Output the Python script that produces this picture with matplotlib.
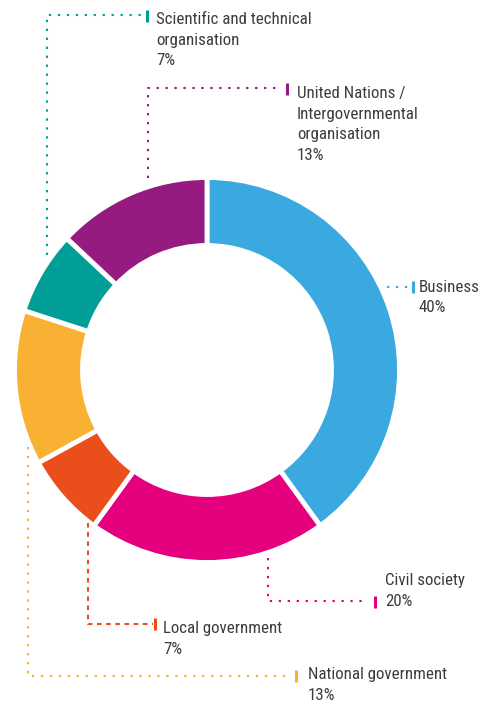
import matplotlib
matplotlib.use("Agg")
import matplotlib.pyplot as plt
from matplotlib import font_manager

## Data
labels = ["Business", "Civil society", "Local government", "National government",
          "Scientific and technical\norganisation", "United Nations /\nIntergovernmental\norganisation"]
shares = [40, 20, 7, 13, 7, 13]
colors = ["#39a9e0", "#e5007d", "#e94e1b", "#f8b133", "#009e96", "#951b80"]

W, H = 494, 706

# leader path in pixel coords (from top-left), tick centre, text x, first baseline
leaders = [
    [(387, 287), (408, 287)],
    [(268, 558), (268, 601), (368, 601)],
    [(88, 523), (88, 624), (153, 624)],
    [(28, 447), (28, 676), (290, 676)],
    [(47, 255), (47, 15), (143, 15)],
    [(148, 178), (148, 88), (282, 88)],
]
ticks = [(413, 287), (375, 602), (155, 624), (296, 676), (147, 16), (287, 89)]
text_pos = [(419, 292), (385, 585), (163, 633), (308, 679), (156, 24), (297, 98)]
line_step = 20.5

# pick a condensed face if one is installed
cond = [f for f in font_manager.fontManager.ttflist
        if ("ondensed" in f.fname or "Narrow" in f.fname) and "Bold" not in f.fname
        and "Italic" not in f.fname and "Oblique" not in f.fname and "Light" not in f.fname]
cond.sort(key=lambda f: (0 if "Roboto" in f.fname else 1, f.fname))
if cond:
    fp = font_manager.FontProperties(fname=cond[0].fname, size=12.2)
else:
    fp = font_manager.FontProperties(family="Roboto", size=11)

fig = plt.figure(figsize=(W / 100, H / 100), dpi=100)
ax = fig.add_axes([0, 0, 1, 1])

## Donut (white edge eats ~2.4 px on each side, so pad radius/width)
ax.pie(shares, colors=colors, startangle=90, counterclock=False,
       radius=192.5, center=(207, H - 370),
       wedgeprops=dict(width=68, edgecolor="white", linewidth=3.5))

for i, lab in enumerate(labels):
    pts = leaders[i]
    ls = (0, (2.2, 2.2)) if i == 2 else (0, (1.1, 3.2))
    ax.plot([p[0] for p in pts], [H - p[1] for p in pts], color=colors[i],
            lw=1.5, ls=ls, solid_capstyle="butt", dash_capstyle="butt")
    tx, ty = ticks[i]
    ax.plot([tx, tx], [H - ty - 6, H - ty + 6], color=colors[i], lw=2.2,
            solid_capstyle="butt")
    x0, y0 = text_pos[i]
    lines = lab.split("\n") + [f"{shares[i]}%"]
    for k, line in enumerate(lines):
        ax.text(x0, H - (y0 + k * line_step), line, fontproperties=fp,
                color="#3c3c3b", ha="left", va="baseline")

ax.set_xlim(0, W)
ax.set_ylim(0, H)
ax.set_aspect("equal")
ax.axis("off")

fig.savefig("out.png", dpi=100)
